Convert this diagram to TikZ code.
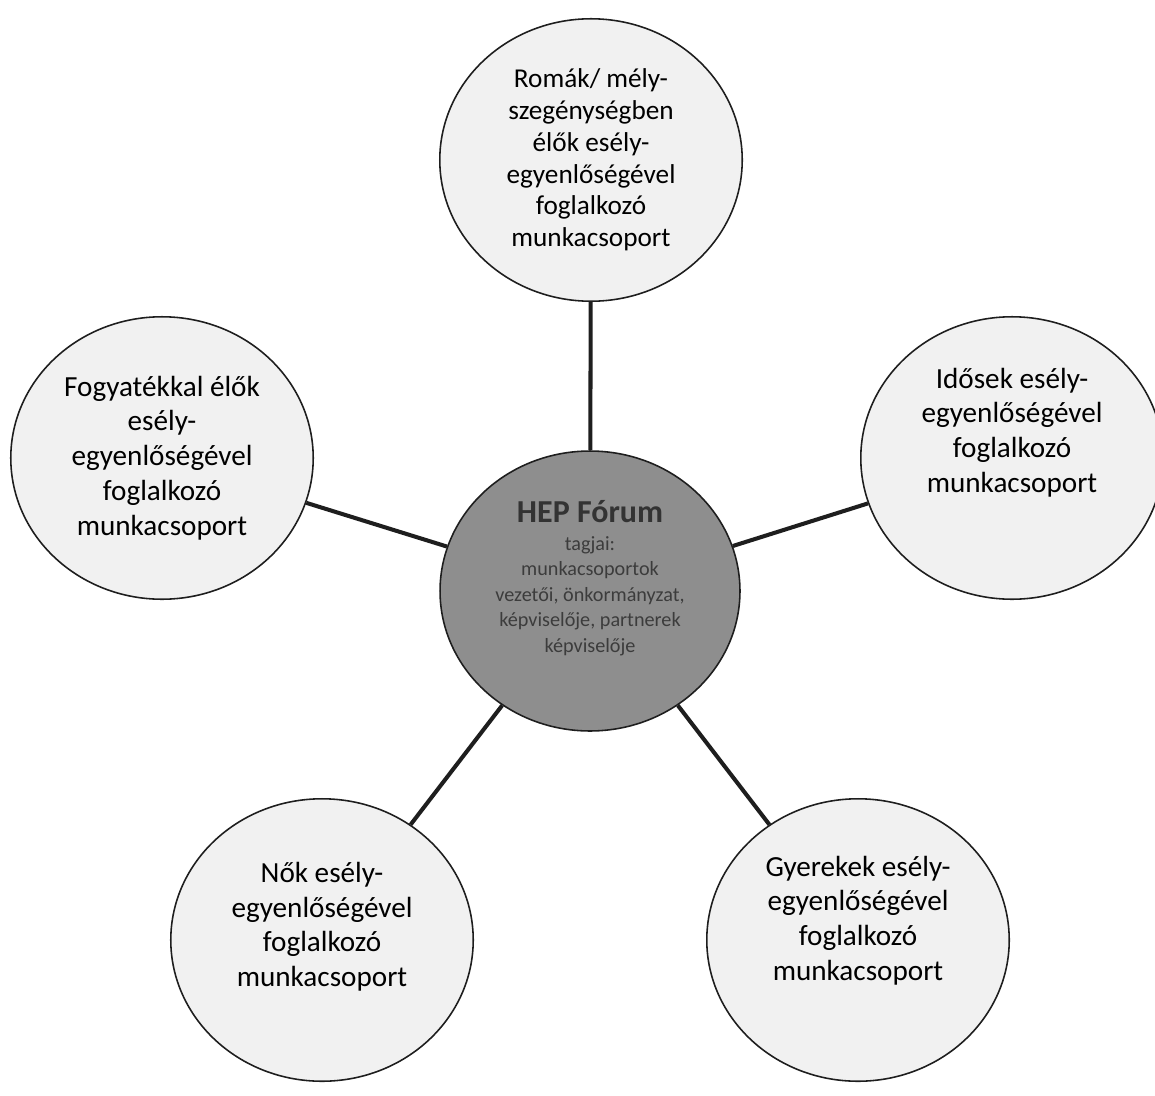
\documentclass[tikz,border=0pt]{standalone}
\usepackage{fontspec}
\setmainfont{Carlito}
\usepackage{xcolor}
\usepackage{tikz}
\usetikzlibrary{shapes.geometric}
\definecolor{hubGray}{HTML}{8E8E8E}
\definecolor{hubText}{HTML}{3C3C3C}
\definecolor{rimGray}{HTML}{1E1E1E}
\definecolor{paperGray}{HTML}{F1F1F1}

\begin{document}
\begin{tikzpicture}[
    x=0.02cm,y=-0.02cm,
    group/.style={ellipse,draw=rimGray,fill=paperGray,line width=0.9pt,
                  minimum width=6.05cm,minimum height=5.65cm,inner sep=0pt,
                  align=center,font=\fontsize{16.6}{19.8}\selectfont},
    hub/.style={ellipse,draw=rimGray,fill=hubGray,line width=0.9pt,
                minimum width=6cm,minimum height=5.6cm,inner sep=0pt,
                align=center,text=hubText,font=\fontsize{11.5}{14.5}\selectfont},
    spoke/.style={line width=2.3pt,draw=rimGray}
  ]
  \useasboundingbox (0,0) rectangle (1155,1095);
  \node[hub] (hep) at (590,591)
        {{\fontsize{18.2}{21}\selectfont\textbf{\color{black!80}HEP Fórum}}\\[1pt]
         tagjai:\\munkacsoportok\\vezetői, önkormányzat,\\képviselője, partnerek\\képviselője\\[2pt]};
  \node[group,font=\fontsize{15.5}{18.1}\selectfont] (roma) at (591,160)
        {Romák/ mély-\\szegénységben\\élők esély-\\egyenlőségével\\foglalkozó\\munkacsoport};
  \node[group] (fogy) at (162,458)
        {Fogyatékkal élők\\esély-\\egyenlőségével\\foglalkozó\\munkacsoport};
  \node[group] (idos) at (1012,458)
        {Idősek esély-\\egyenlőségével\\foglalkozó\\munkacsoport\\[12pt]};
  \node[group] (nok) at (322,940)
        {Nők esély-\\egyenlőségével\\foglalkozó\\munkacsoport\\[-2pt]};
  \node[group] (gyer) at (858,940)
        {Gyerekek esély-\\egyenlőségével\\foglalkozó\\munkacsoport\\[5pt]};
  %% spokes
  \foreach \b in {roma, fogy, idos, nok, gyer}
    \draw[spoke] (hep) -- (\b);
\end{tikzpicture}
\end{document}
